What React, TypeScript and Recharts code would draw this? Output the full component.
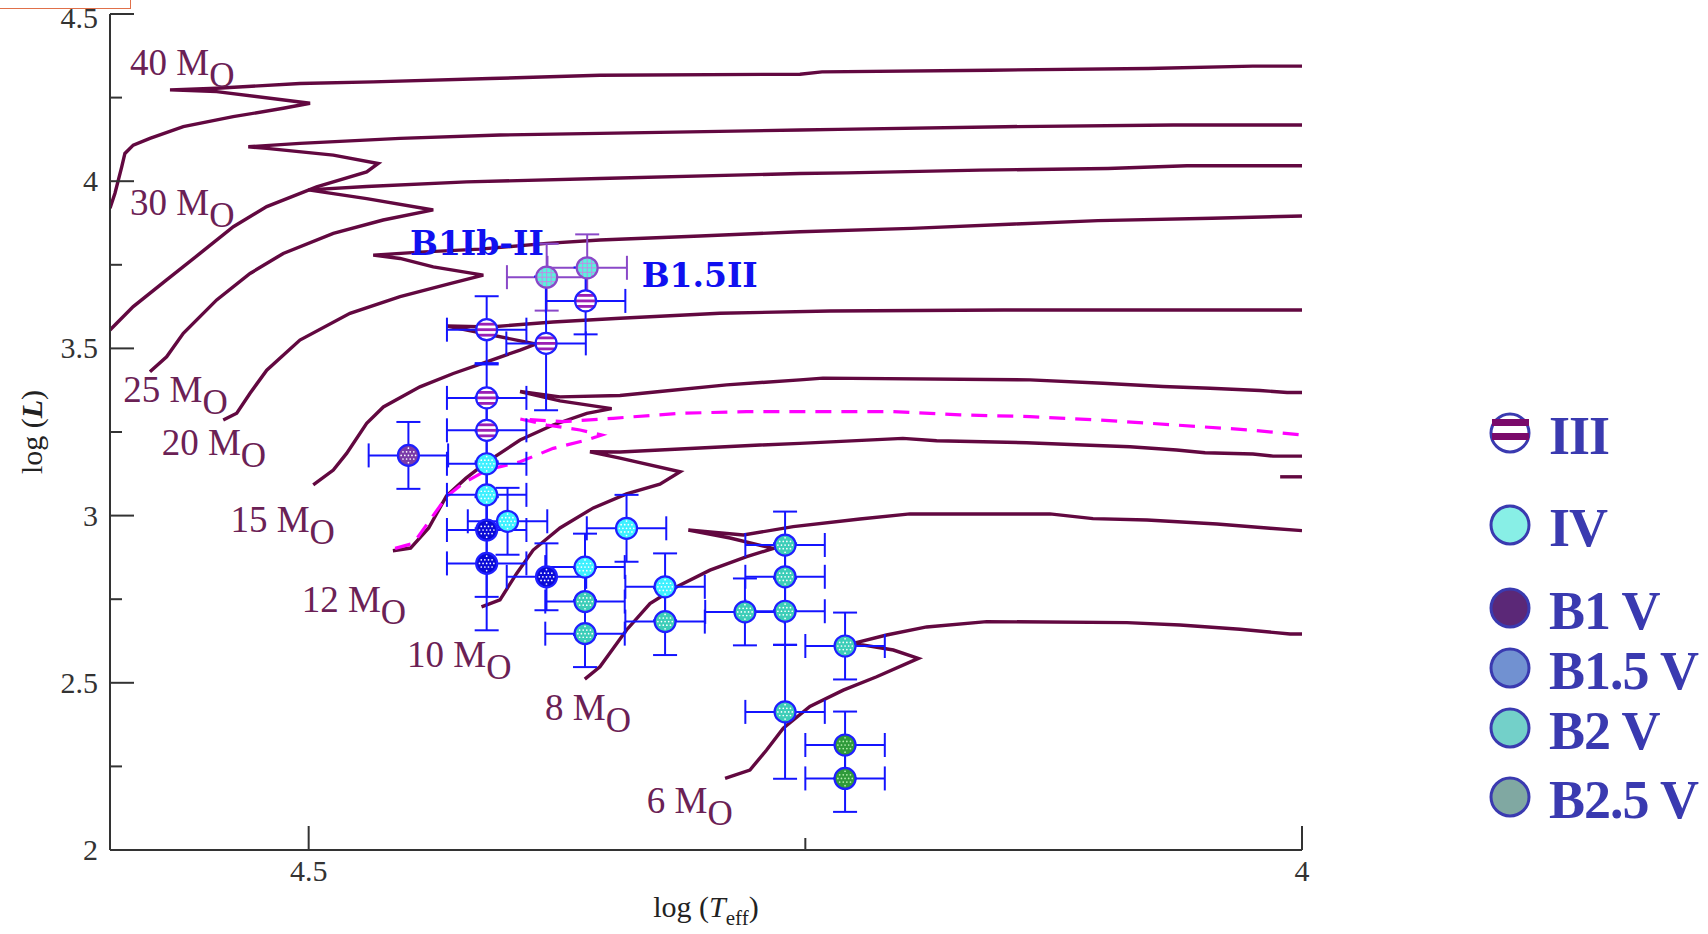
import React from 'react';
import { ComposedChart, Line, Scatter, XAxis, YAxis, ErrorBar, Legend } from 'recharts';

type Pt = { T: number; L: number };
const toPts = (a: number[][]): Pt[] => a.map(([T, L]) => ({ T, L }));

// ---------- evolutionary tracks (log Teff, log L) ----------
const track40 = [
  [4.6, 3.919], [4.5975, 3.964], [4.5941, 4.043], [4.5925, 4.083], [4.5883, 4.108], [4.5799, 4.128],
  [4.5631, 4.163], [4.538, 4.193], [4.5128, 4.218], [4.4993, 4.233],
  [4.5463, 4.268], [4.5698, 4.273],
  [4.5463, 4.278], [4.5044, 4.292], [4.4675, 4.297], [4.4087, 4.307], [4.3534, 4.317], [4.2527, 4.32],
  [4.2416, 4.327], [4.1571, 4.332], [4.0775, 4.337], [4.0247, 4.344], [4.0, 4.344],
];
const track30 = [
  [4.6, 3.555], [4.5883, 3.625], [4.5715, 3.705], [4.5547, 3.784], [4.5379, 3.864], [4.5211, 3.924],
  [4.496, 3.983], [4.4708, 4.028], [4.465, 4.053],
  [4.4876, 4.078], [4.5211, 4.098], [4.5304, 4.103],
  [4.5044, 4.113], [4.454, 4.128], [4.4037, 4.138], [4.3534, 4.143], [4.2527, 4.153], [4.2334, 4.155],
  [4.1495, 4.163], [4.0648, 4.168], [4.0, 4.168],
];
const track25 = [
  [4.5799, 3.43], [4.5715, 3.475], [4.5631, 3.545], [4.5463, 3.645], [4.5295, 3.724], [4.5128, 3.784],
  [4.4876, 3.844], [4.4625, 3.884], [4.4373, 3.914],
  [4.4708, 3.948], [4.4876, 3.963], [4.5002, 3.974],
  [4.4708, 3.984], [4.4205, 3.998], [4.3534, 4.008], [4.2527, 4.023], [4.2292, 4.025], [4.1621, 4.033],
  [4.0977, 4.038], [4.0579, 4.046], [4.0, 4.046],
];
const track20 = [
  [4.543, 3.286], [4.5362, 3.306], [4.5295, 3.366], [4.5211, 3.435], [4.5044, 3.525], [4.4792, 3.605],
  [4.454, 3.655], [4.4289, 3.694], [4.4121, 3.719],
  [4.4373, 3.744], [4.454, 3.769], [4.4675, 3.779],
  [4.444, 3.788], [4.4138, 3.797], [4.3802, 3.814], [4.3534, 3.824], [4.303, 3.836], [4.2527, 3.849],
  [4.1965, 3.859], [4.1445, 3.872], [4.1027, 3.882], [4.0453, 3.889], [4.0, 3.896],
];
const track15 = [
  [4.4977, 3.092], [4.4876, 3.136], [4.4809, 3.186], [4.4708, 3.276], [4.4624, 3.325], [4.444, 3.385],
  [4.4272, 3.425], [4.4104, 3.46], [4.3936, 3.495], [4.3856, 3.513],
  [4.4304, 3.567],
  [4.4087, 3.564], [4.377, 3.579], [4.3433, 3.59], [4.293, 3.605], [4.2376, 3.612], [4.15, 3.615], [4.0, 3.615],
];
const track12 = [
  [4.4576, 2.895], [4.4487, 2.903], [4.4396, 2.963], [4.4306, 3.059], [4.4208, 3.112], [4.4104, 3.16],
  [4.3936, 3.226], [4.377, 3.271], [4.36, 3.306], [4.3475, 3.32],
  [4.3735, 3.343], [4.3936, 3.371],
  [4.3735, 3.355], [4.3433, 3.359], [4.3232, 3.371], [4.2896, 3.391], [4.2527, 3.406], [4.2411, 3.411],
  [4.1369, 3.406], [4.1002, 3.396], [4.07, 3.386], [4.0463, 3.381], [4.0211, 3.374], [4.0075, 3.368], [4.0, 3.368],
];
const track10 = [
  [4.413, 2.727], [4.4037, 2.748], [4.3953, 2.827], [4.387, 2.897], [4.3735, 2.963], [4.3567, 3.023],
  [4.34, 3.065], [4.3232, 3.094], [4.313, 3.131],
  [4.3433, 3.172], [4.3584, 3.191],
  [4.3433, 3.19], [4.3232, 3.196], [4.2728, 3.211], [4.2527, 3.216], [4.2009, 3.231], [4.1839, 3.224],
  [4.1386, 3.218], [4.1102, 3.211], [4.0866, 3.206], [4.0631, 3.196], [4.0488, 3.188], [4.0247, 3.184],
  [4.0146, 3.178], [4.0, 3.178],
];
const track8 = [
  [4.361, 2.511], [4.3534, 2.548], [4.34, 2.658], [4.3282, 2.737], [4.3147, 2.787], [4.298, 2.837],
  [4.2795, 2.877], [4.2661, 2.902],
  [4.2879, 2.933], [4.3089, 2.957],
  [4.2812, 2.942], [4.2561, 2.967], [4.2225, 2.99], [4.1973, 3.005], [4.1269, 3.005], [4.1052, 2.991],
  [4.078, 2.987], [4.0428, 2.975], [4.0161, 2.962], [4.0, 2.955],
];
const track6 = [
  [4.2904, 2.214], [4.2779, 2.239], [4.2695, 2.299], [4.2611, 2.364], [4.2477, 2.429], [4.2309, 2.478],
  [4.2141, 2.518], [4.1931, 2.573],
  [4.2057, 2.598], [4.2259, 2.618],
  [4.2091, 2.643], [4.1889, 2.667], [4.1587, 2.683], [4.0881, 2.68], [4.0614, 2.673], [4.0312, 2.66],
  [4.006, 2.646], [4.0, 2.646],
];
const trackStub = [[4.011, 3.116], [4.0, 3.116]];
const dashedTrack = [
  [4.4565, 2.902], [4.4473, 2.917], [4.4389, 2.987], [4.4305, 3.057], [4.4222, 3.097], [4.4104, 3.136],
  [4.3936, 3.161], [4.3769, 3.201], [4.3601, 3.226], [4.3525, 3.241],
  [4.3634, 3.256], [4.3802, 3.271], [4.3936, 3.289],
  [4.3719, 3.281], [4.3467, 3.291], [4.3131, 3.306], [4.2795, 3.311], [4.2059, 3.311], [4.1721, 3.301],
  [4.1369, 3.296], [4.1017, 3.286], [4.0514, 3.266], [4.0262, 3.256], [4.0, 3.241],
];
const TRACKS = [track40, track30, track25, track20, track15, track12, track10, track8, track6, trackStub];

// ---------- stars: log Teff, log L, errors ----------
const starsII = [
  { T: 4.3802, L: 3.713, eT: 0.02, eL: 0.1 },
  { T: 4.3598, L: 3.741, eT: 0.02, eL: 0.1 },
];
const starsIII = [
  { T: 4.3606, L: 3.642, eT: 0.02, eL: 0.1 },
  { T: 4.4104, L: 3.556, eT: 0.02, eL: 0.1 },
  { T: 4.3805, L: 3.515, eT: 0.02, eL: 0.2 },
  { T: 4.4104, L: 3.352, eT: 0.02, eL: 0.1 },
  { T: 4.4104, L: 3.255, eT: 0.02, eL: 0.1 },
];
const starsIV = [
  { T: 4.4104, L: 3.155, eT: 0.02, eL: 0.1 },
  { T: 4.4104, L: 3.062, eT: 0.02, eL: 0.1 },
  { T: 4.3999, L: 2.983, eT: 0.02, eL: 0.1 },
  { T: 4.34, L: 2.962, eT: 0.02, eL: 0.1 },
  { T: 4.3609, L: 2.846, eT: 0.02, eL: 0.1 },
  { T: 4.3206, L: 2.787, eT: 0.02, eL: 0.1 },
];
const starsB1V = [{ T: 4.4498, L: 3.18, eT: 0.02, eL: 0.1 }];
const starsB15V = [
  { T: 4.4104, L: 2.957, eT: 0.02, eL: 0.2 },
  { T: 4.4104, L: 2.857, eT: 0.02, eL: 0.2 },
  { T: 4.3803, L: 2.817, eT: 0.02, eL: 0.1 },
];
const starsB2V = [
  { T: 4.3609, L: 2.743, eT: 0.02, eL: 0.1 },
  { T: 4.3609, L: 2.647, eT: 0.02, eL: 0.1 },
  { T: 4.3206, L: 2.683, eT: 0.02, eL: 0.1 },
  { T: 4.2804, L: 2.712, eT: 0.02, eL: 0.1 },
  { T: 4.2602, L: 2.912, eT: 0.02, eL: 0.1 },
  { T: 4.2602, L: 2.817, eT: 0.02, eL: 0.1 },
  { T: 4.2602, L: 2.714, eT: 0.02, eL: 0.1 },
  { T: 4.23, L: 2.61, eT: 0.02, eL: 0.1 },
  { T: 4.2602, L: 2.413, eT: 0.02, eL: 0.2 },
];
const starsB25V = [
  { T: 4.23, L: 2.314, eT: 0.02, eL: 0.1 },
  { T: 4.23, L: 2.214, eT: 0.02, eL: 0.1 },
];

// ---------- text labels ----------
const MASS_LABELS = [
  { T: 4.5899, L: 4.3176, text: '40' },
  { T: 4.5899, L: 3.899, text: '30' },
  { T: 4.5933, L: 3.3406, text: '25' },
  { T: 4.574, L: 3.1812, text: '20' },
  { T: 4.5394, L: 2.9516, text: '15' },
  { T: 4.5035, L: 2.7117, text: '12' },
  { T: 4.4505, L: 2.5458, text: '10' },
  { T: 4.381, L: 2.3888, text: '8' },
  { T: 4.3298, L: 2.1097, text: '6' },
];
const SPECTRAL_LABELS = [
  { T: 4.449, L: 3.779, text: 'B1Ib-II' },
  { T: 4.3324, L: 3.6827, text: 'B1.5II' },
];

const X_TICKS = [4.0, 4.25, 4.5];
const X_LABELED = [4.0, 4.5];
const Y_TICKS = [2, 2.25, 2.5, 2.75, 3, 3.25, 3.5, 3.75, 4, 4.25, 4.5];
const Y_LABELED = [2, 2.5, 3, 3.5, 4, 4.5];

const LEGEND_ITEMS = [
  { label: 'III', kind: 'III', fill: '#ffffff' },
  { label: 'IV', kind: 'IV', fill: '#88efe6' },
  { label: 'B1 V', kind: 'B1V', fill: '#5b2877' },
  { label: 'B1.5 V', kind: 'B15V', fill: '#7191d1' },
  { label: 'B2 V', kind: 'B2V', fill: '#73d0c9' },
  { label: 'B2.5 V', kind: 'B25V', fill: '#80a8a2' },
];

// ---------- styling ----------
const SERIF = '"Liberation Serif", "Times New Roman", serif';
const AXIS_COLOR = '#333333';
const TRACK_COLOR = '#620840';
const BAR_BLUE = '#1414ff';
const BAR_PURPLE = '#8a48c8';
const OUTLINE = '#1f1fff';

const near = (arr: number[], v: number) => arr.some((a) => Math.abs(a - v) < 1e-6);

const LeftTick = (p: any) => {
  const v = p.payload.value;
  const major = near(Y_LABELED, v);
  return (
    <g>
      <line x1={p.x} x2={p.x + (major ? 24 : 12)} y1={p.y} y2={p.y} stroke={AXIS_COLOR} strokeWidth={2} />
      {major && (
        <text x={p.x - 12} y={Math.max(p.y + 10, 28)} textAnchor="end" fontFamily={SERIF} fontSize={30} fill="#333">
          {String(v)}
        </text>
      )}
    </g>
  );
};
const RightTick = (p: any) => {
  const major = near(Y_LABELED, p.payload.value);
  return <line x1={p.x} x2={p.x - (major ? 24 : 12)} y1={p.y} y2={p.y} stroke={AXIS_COLOR} strokeWidth={2} />;
};
const BottomTick = (p: any) => {
  const v = p.payload.value;
  const major = near(X_LABELED, v);
  return (
    <g>
      <line x1={p.x} x2={p.x} y1={p.y} y2={p.y - (major ? 24 : 12)} stroke={AXIS_COLOR} strokeWidth={2} />
      {major && (
        <text x={p.x} y={p.y + 31} textAnchor="middle" fontFamily={SERIF} fontSize={30} fill="#333">
          {String(v)}
        </text>
      )}
    </g>
  );
};
const TopTick = (p: any) => {
  const major = near(X_LABELED, p.payload.value);
  return <line x1={p.x} x2={p.x} y1={p.y} y2={p.y + (major ? 24 : 12)} stroke={AXIS_COLOR} strokeWidth={2} />;
};

const DOTS: [number, number][] = (() => {
  const out: [number, number][] = [];
  for (let j = -2; j <= 2; j++) {
    for (let i = -3; i <= 3; i++) {
      const dx = i * 3.6 + (j % 2 ? 1.8 : 0);
      const dy = j * 3.6;
      if (dx * dx + dy * dy <= 56) out.push([dx, dy]);
    }
  }
  return out;
})();

const FILLS: Record<string, string> = {
  IV: '#3ef0ff',
  B1V: '#7a3aa8',
  B15V: '#0a0ad6',
  B2V: '#3ccdb8',
  B25V: '#2f9a3a',
};

const StarShape = (p: any) => {
  const { cx, cy, payload } = p;
  if (cx == null || cy == null) return null;
  const r = 10.5;
  const k = payload.kind;
  if (k === 'III') {
    return (
      <g>
        <circle cx={cx} cy={cy} r={r} fill="#fff" />
        {[-5.5, 0, 5.5].map((dy) => {
          const hw = Math.sqrt(r * r - dy * dy);
          return <line key={dy} x1={cx - hw} x2={cx + hw} y1={cy + dy} y2={cy + dy} stroke="#9b1fb5" strokeWidth={2.8} />;
        })}
        <circle cx={cx} cy={cy} r={r} fill="none" stroke={OUTLINE} strokeWidth={2.2} />
      </g>
    );
  }
  if (k === 'II') {
    const lines = [-4.5, 0, 4.5];
    return (
      <g>
        <circle cx={cx} cy={cy} r={r} fill="#58f4da" />
        {lines.map((d) => {
          const hw = Math.sqrt(r * r - d * d);
          return (
            <g key={d}>
              <line x1={cx - hw} x2={cx + hw} y1={cy + d} y2={cy + d} stroke="#c08ae8" strokeWidth={1} />
              <line y1={cy - hw} y2={cy + hw} x1={cx + d} x2={cx + d} stroke="#c08ae8" strokeWidth={1} />
            </g>
          );
        })}
        <circle cx={cx} cy={cy} r={r} fill="none" stroke={BAR_PURPLE} strokeWidth={2.2} />
      </g>
    );
  }
  const dotColor = k === 'B25V' ? '#b8f0b0' : '#ffffff';
  return (
    <g>
      <circle cx={cx} cy={cy} r={r} fill={FILLS[k]} />
      {DOTS.map(([dx, dy], i) => (
        <circle key={i} cx={cx + dx} cy={cy + dy} r={0.85} fill={dotColor} />
      ))}
      <circle cx={cx} cy={cy} r={r} fill="none" stroke={OUTLINE} strokeWidth={2.2} />
    </g>
  );
};

const LabelShape = (p: any) => {
  const { cx, cy, payload } = p;
  if (cx == null || cy == null) return null;
  if (payload.kind === 'mass') {
    return (
      <text x={cx} y={cy} fontFamily={SERIF} fontSize={37} fill="#6b2155">
        {payload.text} M
        <tspan dy={12} fontSize={35}>O</tspan>
      </text>
    );
  }
  return (
    <text x={cx} y={cy} fontFamily='"DejaVu Serif", serif' fontWeight="bold" fontSize={33} fill="#1010f0">
      {payload.text}
    </text>
  );
};

const renderLegend = () => {
  const rowY = [43, 135, 218, 278, 338, 407];
  return (
    <svg width={258} height={440} style={{ overflow: 'visible' }}>
      {LEGEND_ITEMS.map((it, i) => {
        const y = rowY[i];
        return (
          <g key={it.label}>
            <circle cx={60} cy={y} r={19} fill={it.fill} stroke="#3a3ab0" strokeWidth={3} />
            {it.kind === 'III' && (
              <g>
                <rect x={42} y={y - 14} width={37} height={7} fill="#7a0a6a" />
                <rect x={42} y={y} width={37} height={7} fill="#7a0a6a" />
              </g>
            )}
            <text x={99} y={y + 21} fontFamily={SERIF} fontWeight="bold" fontSize={54} letterSpacing={-1} fill="#3a3ab0">
              {it.label}
            </text>
          </g>
        );
      })}
    </svg>
  );
};

const YTitle = (p: any) => {
  const vb = p.viewBox;
  const x = vb.x + 32;
  const y = vb.y + vb.height / 2;
  return (
    <text x={x} y={y} transform={`rotate(-90, ${x}, ${y})`} textAnchor="middle" fontFamily={SERIF} fontSize={30} fill="#222">
      log (<tspan fontWeight="bold" fontStyle="italic">L</tspan>)
    </text>
  );
};
const XTitle = (p: any) => {
  const vb = p.viewBox;
  const x = vb.x + vb.width / 2;
  const y = vb.y + 67;
  return (
    <text x={x} y={y} textAnchor="middle" fontFamily={SERIF} fontSize={30} fill="#222">
      log (<tspan fontStyle="italic">T</tspan>
      <tspan fontSize={21} dy={8}>eff</tspan>
      <tspan dy={-8}>)</tspan>
    </text>
  );
};

export default function App() {
  const mainStars = [
    ...starsIII.map((s) => ({ ...s, kind: 'III' })),
    ...starsIV.map((s) => ({ ...s, kind: 'IV' })),
    ...starsB1V.map((s) => ({ ...s, kind: 'B1V' })),
    ...starsB15V.map((s) => ({ ...s, kind: 'B15V' })),
    ...starsB2V.map((s) => ({ ...s, kind: 'B2V' })),
    ...starsB25V.map((s) => ({ ...s, kind: 'B25V' })),
  ];
  const giants = starsII.map((s) => ({ ...s, kind: 'II' }));
  const labels = [
    ...MASS_LABELS.map((l) => ({ ...l, kind: 'mass' })),
    ...SPECTRAL_LABELS.map((l) => ({ ...l, kind: 'sp' })),
  ];

  return (
    <div style={{ position: 'absolute', left: 0, top: 0, width: 1708, height: 934, background: '#fff' }}>
      <div
        style={{
          position: 'absolute',
          left: 0,
          top: 0,
          width: 130,
          height: 8,
          borderRight: '1px solid #e0704a',
          borderBottom: '1px solid #e0704a',
        }}
      />
      <ComposedChart width={1708} height={934} margin={{ top: 14, right: 406, bottom: 34, left: 10 }}>
        <XAxis
          xAxisId="b"
          dataKey="T"
          type="number"
          domain={[4.0, 4.6]}
          reversed
          allowDataOverflow
          ticks={X_TICKS}
          interval={0}
          height={50}
          tickSize={0}
          tickMargin={0}
          tickLine={false}
          tick={BottomTick}
          axisLine={{ stroke: AXIS_COLOR, strokeWidth: 2 }}
          label={XTitle}
        />
        <XAxis
          xAxisId="t"
          orientation="top"
          dataKey="T"
          type="number"
          domain={[4.0, 4.6]}
          reversed
          allowDataOverflow
          ticks={X_TICKS}
          interval={0}
          height={0}
          tickSize={0}
          tickMargin={0}
          tickLine={false}
          tick={TopTick}
          axisLine={{ stroke: AXIS_COLOR, strokeWidth: 2 }}
        />
        <YAxis
          yAxisId="l"
          dataKey="L"
          type="number"
          domain={[2, 4.5]}
          allowDataOverflow
          ticks={Y_TICKS}
          interval={0}
          width={100}
          tickSize={0}
          tickMargin={0}
          tickLine={false}
          tick={LeftTick}
          axisLine={{ stroke: AXIS_COLOR, strokeWidth: 2 }}
          label={YTitle}
        />
        <YAxis
          yAxisId="r"
          orientation="right"
          dataKey="L"
          type="number"
          domain={[2, 4.5]}
          allowDataOverflow
          ticks={Y_TICKS}
          interval={0}
          width={0}
          tickSize={0}
          tickMargin={0}
          tickLine={false}
          tick={RightTick}
          axisLine={{ stroke: AXIS_COLOR, strokeWidth: 2 }}
        />

        {TRACKS.map((t, i) => (
          <Line
            key={`trk${i}`}
            xAxisId="b"
            yAxisId="l"
            data={toPts(t)}
            dataKey="L"
            type="linear"
            stroke={TRACK_COLOR}
            strokeWidth={3.4}
            strokeLinejoin="miter"
            dot={false}
            activeDot={false}
            legendType="none"
            isAnimationActive={false}
          />
        ))}
        <Line
          xAxisId="b"
          yAxisId="l"
          data={toPts(dashedTrack)}
          dataKey="L"
          type="linear"
          stroke="#ff00ff"
          strokeWidth={3.2}
          strokeDasharray="16 10"
          dot={false}
          activeDot={false}
          legendType="none"
          isAnimationActive={false}
        />

        {/* purple error bars of the bright giants (drawn below other symbols) */}
        <Scatter xAxisId="b" yAxisId="l" data={giants} shape={() => <g />} legendType="none" isAnimationActive={false}>
          <ErrorBar dataKey="eT" direction="x" width={12} stroke={BAR_PURPLE} strokeWidth={2} />
          <ErrorBar dataKey="eL" direction="y" width={12} stroke={BAR_PURPLE} strokeWidth={2} />
        </Scatter>

        <Scatter xAxisId="b" yAxisId="l" data={mainStars} shape={StarShape} legendType="none" isAnimationActive={false}>
          <ErrorBar dataKey="eT" direction="x" width={12} stroke={BAR_BLUE} strokeWidth={2} />
          <ErrorBar dataKey="eL" direction="y" width={12} stroke={BAR_BLUE} strokeWidth={2} />
        </Scatter>

        <Scatter xAxisId="b" yAxisId="l" data={giants} shape={StarShape} legendType="none" isAnimationActive={false} />

        <Scatter xAxisId="t" yAxisId="r" data={labels} shape={LabelShape} legendType="none" isAnimationActive={false} />

        <Legend
          layout="horizontal"
          verticalAlign="middle"
          align="center"
          content={renderLegend}
          wrapperStyle={{ left: 1450, top: 390, width: 258, height: 440 }}
        />
      </ComposedChart>
    </div>
  );
}
